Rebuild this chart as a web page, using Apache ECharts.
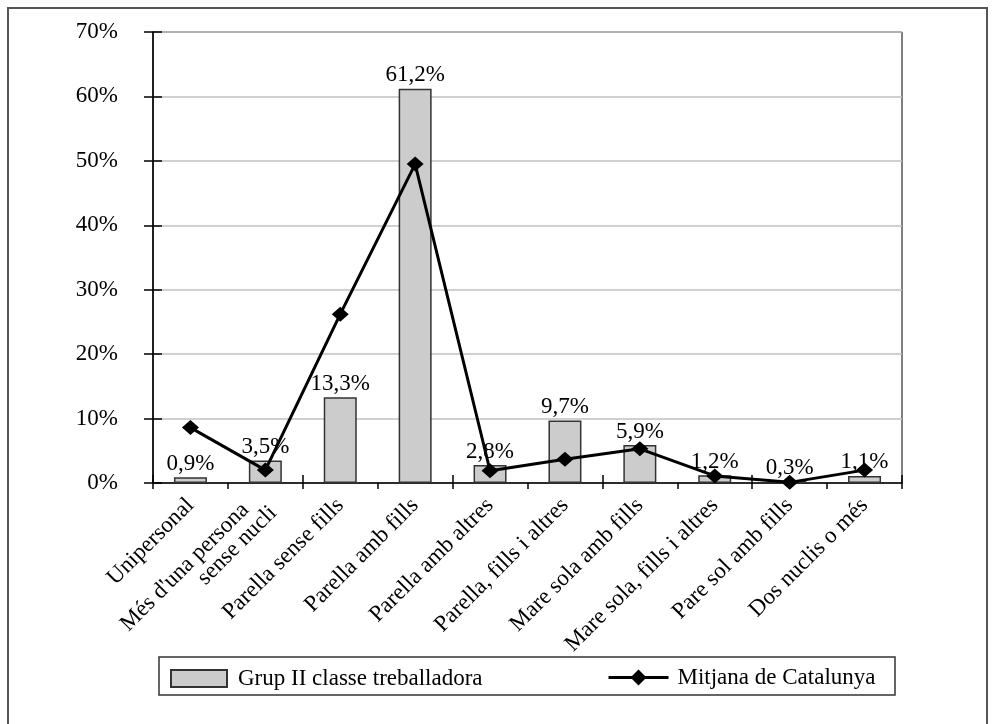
<!DOCTYPE html>
<html><head><meta charset="utf-8">
<script src="https://cdn.jsdelivr.net/npm/echarts@6/dist/echarts.min.js"></script>
<style>html,body{margin:0;padding:0;background:#fff}#c{width:992px;height:724px}</style>
</head><body><div id="c"></div>
<script>
const categories = ['Unipersonal', "Més d'una persona\nsense nucli", 'Parella sense fills', 'Parella amb fills', 'Parella amb altres', 'Parella, fills i altres', 'Mare sola amb fills', 'Mare sola, fills i altres', 'Pare sol amb fills', 'Dos nuclis o més'];
const grupII = [0.9, 3.5, 13.3, 61.2, 2.8, 9.7, 5.9, 1.2, 0.3, 1.1];
const mitjana = [8.6, 2.0, 26.2, 49.5, 1.9, 3.7, 5.3, 1.1, 0.1, 2.0];
const yTicks = [0, 10, 20, 30, 40, 50, 60, 70];
const seriesNames = ['Grup II classe treballadora', 'Mitjana de Catalunya'];

const FONT = 'Liberation Serif';
const FS = 23;
const chart = echarts.init(document.getElementById('c'));
const yBase = {type:'value', min:yTicks[0], max:yTicks[yTicks.length-1], interval:10};
chart.setOption({
  animation:false,
  textStyle:{fontFamily:FONT, color:'#000'},
  grid:{left:153, right:90, top:32, bottom:241, show:true, borderColor:'#000', borderWidth:1, backgroundColor:'transparent'},
  graphic:[
    {type:'rect', shape:{x:8,y:8,width:979,height:730}, style:{fill:'none', stroke:'#555', lineWidth:2}, z:-1},
    {type:'rect', shape:{x:159,y:657,width:736,height:38}, style:{fill:'none', stroke:'#333', lineWidth:1.5}, z:-1}
  ],
  legend:[
    {data:[{name:seriesNames[0], icon:'rect'}], left:170, top:667, itemWidth:56, itemHeight:17, padding:0,
     textStyle:{fontFamily:FONT, fontSize:FS, color:'#000', padding:[0,0,0,6]}},
    {data:[seriesNames[1]], left:607, top:666, itemWidth:60, itemHeight:20, padding:0,
     lineStyle:{width:3, color:'#000'},
     textStyle:{fontFamily:FONT, fontSize:FS, color:'#000', padding:[0,0,0,4]}}
  ],
  xAxis:[
    {type:'category', data:categories, boundaryGap:true,
     axisLine:{lineStyle:{color:'#000', width:1.5}},
     axisTick:{show:true, length:6, lineStyle:{color:'#000', width:1.5}},
     axisLabel:{rotate:45, fontSize:FS, color:'#000', fontFamily:FONT, margin:19, interval:0, align:'right', lineHeight:22,
       formatter: v => v.replace('\n', '   \n')}},
    {type:'category', data:categories, boundaryGap:true, position:'bottom',
     axisLine:{show:false}, axisTick:{show:true, inside:true, length:8, lineStyle:{color:'#000', width:1.5}}, axisLabel:{show:false}}
  ],
  yAxis:[
    Object.assign({}, yBase, {
      axisLine:{show:true, lineStyle:{color:'#000', width:1.5}},
      axisTick:{show:true, length:9, lineStyle:{color:'#000', width:1.5}},
      splitLine:{show:true, lineStyle:{color:'#c0c0c0', width:1.5}},
      axisLabel:{fontSize:FS, color:'#000', fontFamily:FONT, margin:35, formatter: v => v + '%'}}),
    Object.assign({}, yBase, {position:'left',
      axisLine:{show:false}, axisTick:{show:true, inside:true, length:9, lineStyle:{color:'#000', width:1.5}},
      splitLine:{show:false}, axisLabel:{show:false}})
  ],
  series:[
    {name:seriesNames[0], type:'bar', data:grupII, barWidth:33,
     itemStyle:{color:'#cccccc', borderColor:'#333', borderWidth:1.5},
     label:{show:true, position:'top', distance:2, fontSize:FS, color:'#000', fontFamily:FONT,
       formatter: p => p.value.toFixed(1).replace('.', ',') + '%'}},
    {name:seriesNames[1], type:'line', data:mitjana, symbol:'diamond', symbolSize:[17,15],
     lineStyle:{color:'#000', width:3}, itemStyle:{color:'#000'}, z:5}
  ]
});
</script></body></html>
